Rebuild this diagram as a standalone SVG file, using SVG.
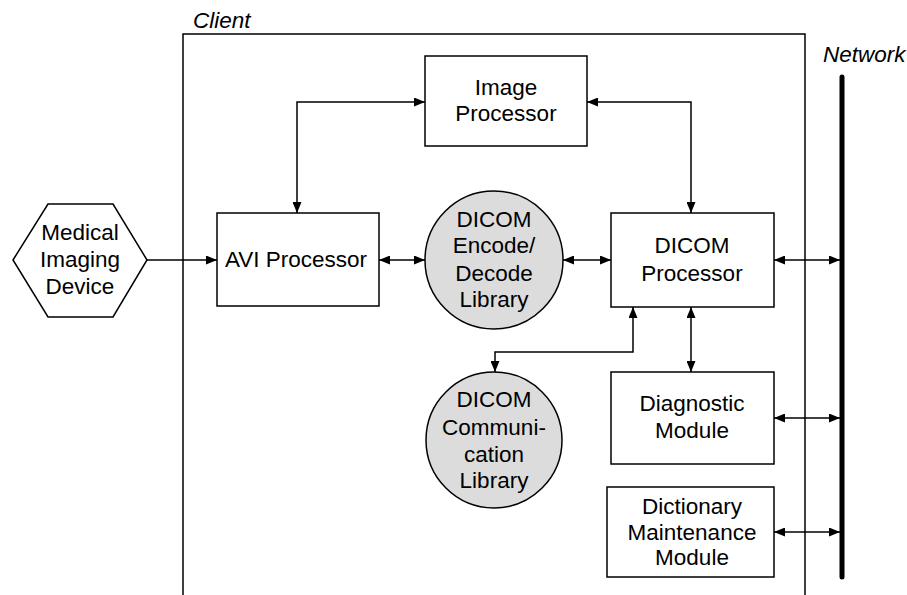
<svg xmlns="http://www.w3.org/2000/svg" width="907" height="595" viewBox="0 0 907 595">
<defs>
<marker id="ah" markerUnits="userSpaceOnUse" markerWidth="11" markerHeight="9" refX="11" refY="4.5" orient="auto-start-reverse">
<path d="M0,0 L11,4.5 L0,9 z" fill="#000"/>
</marker>
<style>
.box{fill:#fff;stroke:#000;stroke-width:1.5}
.lib{fill:#dcdcdc;stroke:#000;stroke-width:1.5}
.t{font-family:"Liberation Sans",Arial,sans-serif;font-size:22.5px;text-anchor:middle;fill:#000}
.it{font-family:"Liberation Sans",Arial,sans-serif;font-size:22.5px;font-style:italic;fill:#000}
.c{fill:none;stroke:#000;stroke-width:1.5}
.one{marker-end:url(#ah)}
.two{marker-start:url(#ah);marker-end:url(#ah)}
</style>
</defs>
<rect width="907" height="595" fill="#fff"/>
<g id="client">
<path d="M183,600 V34 H805 V600" class="c"/>
<text class="it" x="193" y="28">Client</text>
</g>
<g id="network">
<line x1="842" y1="77" x2="842" y2="577" stroke="#000" stroke-width="5" stroke-linecap="round"/>
<text class="it" x="823" y="62">Network</text>
</g>
<g id="connectors">
<path class="c one" d="M147,260 H217"/>
<path class="c two" d="M297,213 V102 H425"/>
<path class="c two" d="M587,102 H691 V213"/>
<path class="c two" d="M379,260 H425"/>
<path class="c two" d="M563,260 H611"/>
<path class="c two" d="M774,260 H840"/>
<path class="c two" d="M633,307 V352 H495 V372"/>
<path class="c two" d="M691,307 V372"/>
<path class="c two" d="M774,418 H840"/>
<path class="c two" d="M774,532 H840"/>
</g>
<g id="medical-imaging-device">
<polygon class="box" points="13,260 48,204 113,204 147,260 113,317 48,317"/>
<text class="t" x="80" y="240">Medical</text>
<text class="t" x="80" y="267">Imaging</text>
<text class="t" x="80" y="294">Device</text>
</g>
<g id="image-processor">
<rect class="box" x="425" y="56" width="162" height="90"/>
<text class="t" x="506" y="95">Image</text>
<text class="t" x="506" y="121">Processor</text>
</g>
<g id="avi-processor">
<rect class="box" x="217" y="213" width="162" height="93"/>
<text class="t" x="296" y="267">AVI Processor</text>
</g>
<g id="dicom-encode-decode-library">
<circle class="lib" cx="494" cy="260" r="69"/>
<text class="t" x="494" y="227">DICOM</text>
<text class="t" x="494" y="253">Encode/</text>
<text class="t" x="494" y="281">Decode</text>
<text class="t" x="494" y="307">Library</text>
</g>
<g id="dicom-processor">
<rect class="box" x="611" y="213" width="163" height="94"/>
<text class="t" x="692" y="253">DICOM</text>
<text class="t" x="692" y="281">Processor</text>
</g>
<g id="dicom-communication-library">
<circle class="lib" cx="494" cy="440" r="68"/>
<text class="t" x="494" y="407">DICOM</text>
<text class="t" x="494" y="435">Communi-</text>
<text class="t" x="494" y="462">cation</text>
<text class="t" x="494" y="488">Library</text>
</g>
<g id="diagnostic-module">
<rect class="box" x="611" y="372" width="163" height="92"/>
<text class="t" x="692" y="411">Diagnostic</text>
<text class="t" x="692" y="438">Module</text>
</g>
<g id="dictionary-maintenance-module">
<rect class="box" x="607" y="487" width="167" height="90"/>
<text class="t" x="692" y="514">Dictionary</text>
<text class="t" x="692" y="540">Maintenance</text>
<text class="t" x="692" y="565">Module</text>
</g>
</svg>
